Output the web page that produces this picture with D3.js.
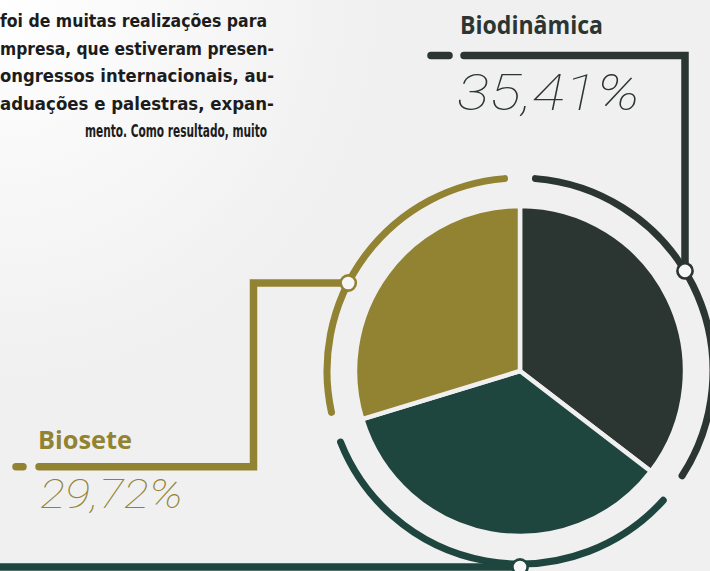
<!DOCTYPE html>
<html>
<head>
<meta charset="utf-8">
<script src="https://cdn.jsdelivr.net/npm/d3@7"></script>
<style>
  html, body { margin: 0; padding: 0; overflow: hidden; background: #f0f0f0; }
</style>
</head>
<body>
<svg id="chart" width="710" height="571"></svg>
<script>
// chart data
const categories = ['Biodinâmica', 'Outros', 'Biosete'];
const shares = [35.41, 34.87, 29.72];
const seriesColors = ['#2b3531', '#1f463e', '#918331'];
const paragraphLines = [
  'foi de muitas realizações para',
  'mpresa, que estiveram presen-',
  'ongressos internacionais, au-',
  'aduações e palestras, expan-',
  'mento. Como resultado, muito'
];

const width = 710;
const height = 571;
const svg = d3.select('#chart');
const bg = '#f0f0f0';

// background: white glow in the top-left corner
const defs = svg.append('defs');
const grad = defs.append('radialGradient')
  .attr('id', 'bgGlow')
  .attr('gradientUnits', 'userSpaceOnUse')
  .attr('cx', 0).attr('cy', 0).attr('r', 380);
grad.append('stop').attr('offset', 0).attr('stop-color', '#ffffff');
grad.append('stop').attr('offset', 1).attr('stop-color', bg);
svg.append('rect').attr('width', width).attr('height', height).attr('fill', 'url(#bgGlow)');

// comma decimal formatter
const ptBR = d3.formatLocale({ decimal: ',', thousands: '.', grouping: [3], currency: ['R$', ''] });
const fmtPct = (v) => ptBR.format('.2f')(v) + '%';

// paragraph text, justified and cut by the left edge
const paraRight = 267;
const paraLeft = 0;
const lastLineLeft = 85;
const hyphenHang = 7;
const lastIdx = paragraphLines.length - 1;
const lineStart = (i) => (i === lastIdx ? lastLineLeft : paraLeft);

svg.append('g')
  .attr('font-family', "'DejaVu Sans Condensed', 'Noto Sans', sans-serif")
  .attr('font-weight', 700)
  .attr('font-size', 17)
  .attr('fill', '#1c1c1c')
  .selectAll('text')
  .data(paragraphLines)
  .enter()
  .append('text')
  .attr('x', (d, i) => lineStart(i))
  .attr('y', (d, i) => 27 + i * 27.5)
  .attr('textLength', (d, i) => paraRight + (d.endsWith('-') ? hyphenHang : 0) - lineStart(i))
  .attr('lengthAdjust', 'spacingAndGlyphs')
  .text((d) => d);

// pie geometry
const cx = 520;
const cy = 371;
const pieR = 165;
const ringR = 193;
const ringW = 7;
const ringPad = (4.6 * Math.PI) / 180;

const pie = d3.pie().sort(null).value((d) => d);
const slices = pie(shares);

const chart = svg.append('g').attr('transform', `translate(${cx},${cy})`);

const arc = d3.arc().innerRadius(0).outerRadius(pieR);
chart.selectAll('path.slice')
  .data(slices)
  .enter()
  .append('path')
  .attr('class', 'slice')
  .attr('d', arc)
  .attr('fill', (d, i) => seriesColors[i])
  .attr('stroke', bg)
  .attr('stroke-width', 4.5)
  .attr('stroke-linejoin', 'miter');

// outer ring segments
const ringPath = (d) => {
  const p = d3.path();
  p.arc(0, 0, ringR, d.startAngle + ringPad - Math.PI / 2, d.endAngle - ringPad - Math.PI / 2);
  return p.toString();
};
chart.selectAll('path.ring')
  .data(slices)
  .enter()
  .append('path')
  .attr('class', 'ring')
  .attr('d', ringPath)
  .attr('fill', 'none')
  .attr('stroke', (d, i) => seriesColors[i])
  .attr('stroke-width', ringW)
  .attr('stroke-linecap', 'round');

// connectors (in page coordinates)
const lineW = 7.5;
const darkElbowX = 685;
const darkDot = [darkElbowX, cy - Math.sqrt(ringR * ringR - (darkElbowX - cx) ** 2)];
const oliveLineY = 283;
const oliveDot = [cx - Math.sqrt(ringR * ringR - (oliveLineY - cy) ** 2), oliveLineY];
const barY = 567;
const greenDot = [cx, barY];

const connectors = [
  { i: 0, d: `M${darkDot[0]},${darkDot[1]}V55.5H464`, dash: [431, 449], dashY: 55.5 },
  { i: 1, d: `M${greenDot[0]},${barY}H-10`, dash: null },
  { i: 2, d: `M${oliveDot[0]},${oliveDot[1]}H253.5V466.7H39`, dash: [16, 23], dashY: 466.7 }
];

const conn = svg.append('g');
conn.selectAll('path')
  .data(connectors)
  .enter()
  .append('path')
  .attr('d', (d) => d.d)
  .attr('fill', 'none')
  .attr('stroke', (d) => seriesColors[d.i])
  .attr('stroke-width', lineW)
  .attr('stroke-linejoin', 'miter')
  .attr('stroke-linecap', 'round');

conn.selectAll('line')
  .data(connectors.filter((d) => d.dash))
  .enter()
  .append('line')
  .attr('x1', (d) => d.dash[0])
  .attr('x2', (d) => d.dash[1])
  .attr('y1', (d) => d.dashY)
  .attr('y2', (d) => d.dashY)
  .attr('stroke', (d) => seriesColors[d.i])
  .attr('stroke-width', lineW)
  .attr('stroke-linecap', 'round');

// dots where connectors meet the ring
svg.append('g')
  .selectAll('circle')
  .data([
    { p: darkDot, i: 0 },
    { p: greenDot, i: 1 },
    { p: oliveDot, i: 2 }
  ])
  .enter()
  .append('circle')
  .attr('cx', (d) => d.p[0])
  .attr('cy', (d) => d.p[1])
  .attr('r', 7.6)
  .attr('fill', '#f7f7f7')
  .attr('stroke', (d) => seriesColors[d.i])
  .attr('stroke-width', 2.6);

// labels
const labels = [
  { i: 0, x: 460, y: 33.5, len: 143, px: 457, py: 109.5, plen: 183, psize: 50 },
  { i: 2, x: 38, y: 448.5, len: 94, px: 40, py: 508, plen: 143, psize: 41 }
];

const lab = svg.append('g');
lab.selectAll('text.name')
  .data(labels)
  .enter()
  .append('text')
  .attr('class', 'name')
  .attr('x', (d) => d.x)
  .attr('y', (d) => d.y)
  .attr('textLength', (d) => d.len)
  .attr('lengthAdjust', 'spacingAndGlyphs')
  .attr('font-family', "'Open Sans', 'Noto Sans', sans-serif")
  .attr('font-weight', 700)
  .attr('font-size', 25)
  .attr('fill', (d) => seriesColors[d.i])
  .text((d) => categories[d.i]);

lab.selectAll('text.pct')
  .data(labels)
  .enter()
  .append('text')
  .attr('class', 'pct')
  .attr('x', (d) => d.px)
  .attr('y', (d) => d.py)
  .attr('textLength', (d) => d.plen)
  .attr('lengthAdjust', 'spacingAndGlyphs')
  .attr('font-family', "Roboto, Lato, Inter, sans-serif")
  .attr('font-weight', 100)
  .attr('font-style', 'italic')
  .attr('font-size', (d) => d.psize)
  .attr('fill', (d) => seriesColors[d.i])
  .text((d) => fmtPct(shares[d.i]));
</script>
</body>
</html>
